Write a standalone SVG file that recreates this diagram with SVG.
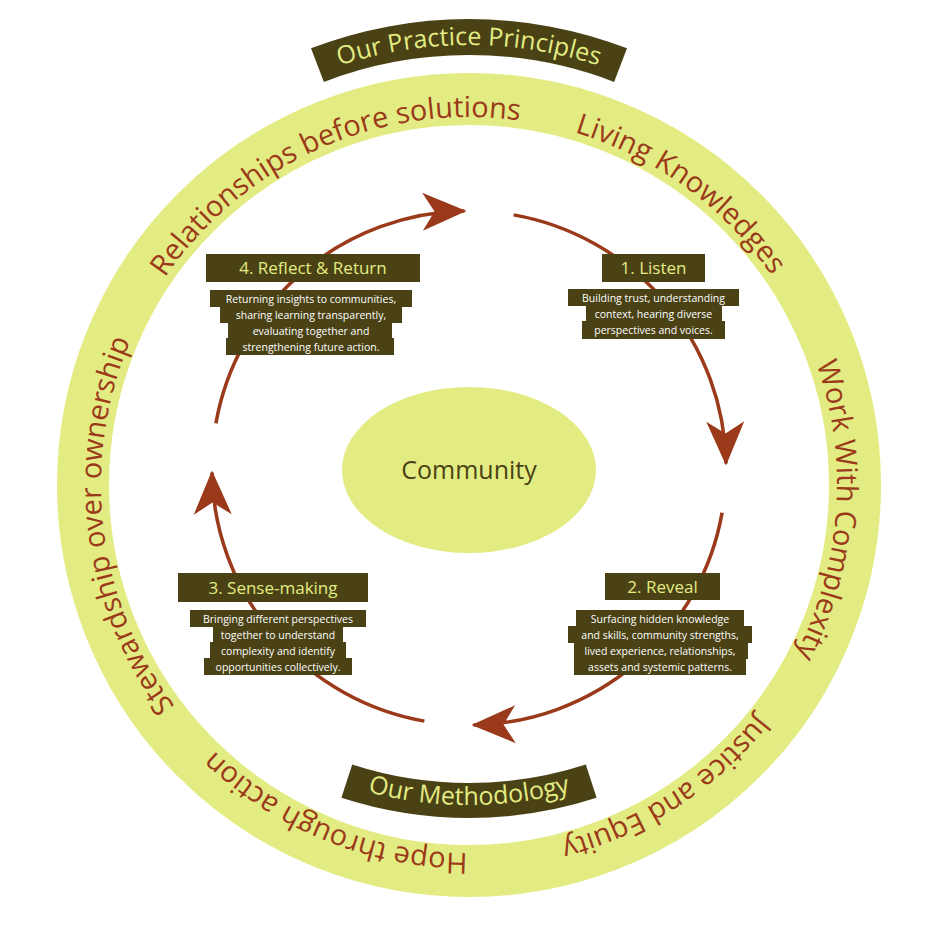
<svg xmlns="http://www.w3.org/2000/svg" xmlns:xlink="http://www.w3.org/1999/xlink" width="938" height="938" viewBox="0 0 938 938">
<style>
.ring{font-family:"Open Sans",Lato,sans-serif;font-size:29px;fill:#9b3a1a}
.ban{font-family:"Open Sans",Lato,sans-serif;font-size:25px;fill:#e3ec82}
.title{font-family:"Open Sans",Lato,sans-serif;font-size:17px;fill:#e3ec82;text-anchor:middle}
.desc{font-family:"Open Sans",Lato,sans-serif;font-size:10.5px;fill:#ffffff;text-anchor:middle}
.dark{fill:#4a4215}
.arc{fill:none;stroke:#9b3a1a;stroke-width:3.5}
</style>
<defs>
<path id="ringPath" d="M 469,117 A 368 368 0 1 1 469,853 A 368 368 0 1 1 469,117 A 368 368 0 1 1 469,853 A 368 368 0 1 1 469,117"/>
<path id="topPath" d="M 261.5,100.6 A 415 415 0 0 1 676.5,100.6"/>
<path id="botPath" d="M 269,751.4 A 400 400 0 0 0 669,751.4"/>
<marker id="ah" markerUnits="userSpaceOnUse" markerWidth="50" markerHeight="50" viewBox="-45 -25 50 50" refX="0" refY="0" orient="auto">
<path d="M 2 0 L -42 -19 L -30 0 L -42 19 Z" fill="#9b3a1a"/>
</marker>
</defs>
<rect width="938" height="938" fill="#ffffff"/>
<g id="ring">
<circle cx="469" cy="485" r="386" fill="none" stroke="#e3ec82" stroke-width="52"/>
<text class="ring"><textPath xlink:href="#ringPath" startOffset="2158" text-anchor="middle">Relationships before solutions</textPath></text>
<text class="ring"><textPath xlink:href="#ringPath" startOffset="231" text-anchor="middle">Living Knowledges</textPath></text>
<text class="ring"><textPath xlink:href="#ringPath" startOffset="604" text-anchor="middle">Work With Complexity</textPath></text>
<text class="ring"><textPath xlink:href="#ringPath" startOffset="944" text-anchor="middle">Justice and Equity</textPath></text>
<text class="ring"><textPath xlink:href="#ringPath" startOffset="1297" text-anchor="middle">Hope through action</textPath></text>
<text class="ring"><textPath xlink:href="#ringPath" startOffset="1689" text-anchor="middle">Stewardship over ownership</textPath></text>
</g>
<g id="banner-top">
<path class="dark" d="M 311,48.3 A 441 441 0 0 1 627,48.3 L 614.1,81.9 A 405 405 0 0 0 323.9,81.9 Z"/>
<text class="ban"><textPath xlink:href="#topPath" startOffset="50%" text-anchor="middle">Our Practice Principles</textPath></text>
</g>
<g id="banner-bottom">
<path class="dark" d="M 352.2,764.5 A 378 378 0 0 0 585.8,764.5 L 596.6,797.8 A 413 413 0 0 1 341.4,797.8 Z"/>
<text class="ban"><textPath xlink:href="#botPath" startOffset="50%" text-anchor="middle">Our Methodology</textPath></text>
</g>
<g id="connectors">
<path class="arc" marker-end="url(#ah)" d="M 513.6,214.9 A 257 257 0 0 1 726,463.5"/>
<path class="arc" marker-end="url(#ah)" d="M 722.1,512.6 A 257 257 0 0 1 473.5,725"/>
<path class="arc" marker-end="url(#ah)" d="M 424.4,721.1 A 257 257 0 0 1 212,472.5"/>
<path class="arc" marker-end="url(#ah)" d="M 215.9,423.4 A 257 257 0 0 1 464.5,211"/>
</g>
<g id="community">
<ellipse cx="469" cy="470" rx="127" ry="83" fill="#e3ec82"/>
<text x="469" y="479" font-family="'Open Sans',Lato,sans-serif" font-size="25" fill="#4a4215" text-anchor="middle">Community</text>
</g>
<g id="step1">
<rect class="dark" x="602" y="254" width="103" height="28"/>
<text class="title" x="653.5" y="274">1. Listen</text>
<rect class="dark" x="568" y="289" width="171" height="17"/>
<rect class="dark" x="586" y="305" width="136" height="17"/>
<rect class="dark" x="582" y="321" width="143" height="18"/>
<text class="desc" x="653.5" y="302">Building trust, understanding</text>
<text class="desc" x="653.5" y="318">context, hearing diverse</text>
<text class="desc" x="653.5" y="334">perspectives and voices.</text>
</g>
<g id="step2">
<rect class="dark" x="605" y="573" width="115" height="27"/>
<text class="title" x="662.5" y="593">2. Reveal</text>
<rect class="dark" x="576" y="610" width="168" height="17"/>
<rect class="dark" x="568" y="626" width="184" height="17"/>
<rect class="dark" x="574" y="642" width="174" height="17"/>
<rect class="dark" x="574" y="658" width="172" height="17"/>
<text class="desc" x="660" y="623">Surfacing hidden knowledge</text>
<text class="desc" x="660" y="639">and skills, community strengths,</text>
<text class="desc" x="660" y="655">lived experience, relationships,</text>
<text class="desc" x="660" y="671">assets and systemic patterns.</text>
</g>
<g id="step3">
<rect class="dark" x="178" y="573" width="190" height="29"/>
<text class="title" x="273" y="594">3. Sense-making</text>
<rect class="dark" x="190" y="610" width="176" height="17"/>
<rect class="dark" x="213" y="626" width="130" height="17"/>
<rect class="dark" x="210" y="642" width="136" height="17"/>
<rect class="dark" x="204" y="658" width="148" height="17"/>
<text class="desc" x="278" y="623">Bringing different perspectives</text>
<text class="desc" x="278" y="639">together to understand</text>
<text class="desc" x="278" y="655">complexity and identify</text>
<text class="desc" x="278" y="671">opportunities collectively.</text>
</g>
<g id="step4">
<rect class="dark" x="206" y="254" width="214" height="28"/>
<text class="title" x="313" y="274">4. Reflect &amp; Return</text>
<rect class="dark" x="210" y="290" width="202" height="17"/>
<rect class="dark" x="220" y="306" width="182" height="17"/>
<rect class="dark" x="228" y="322" width="164" height="17"/>
<rect class="dark" x="226" y="338" width="168" height="17"/>
<text class="desc" x="311" y="303">Returning insights to communities,</text>
<text class="desc" x="311" y="319">sharing learning transparently,</text>
<text class="desc" x="311" y="335">evaluating together and</text>
<text class="desc" x="311" y="351">strengthening future action.</text>
</g>
</svg>
